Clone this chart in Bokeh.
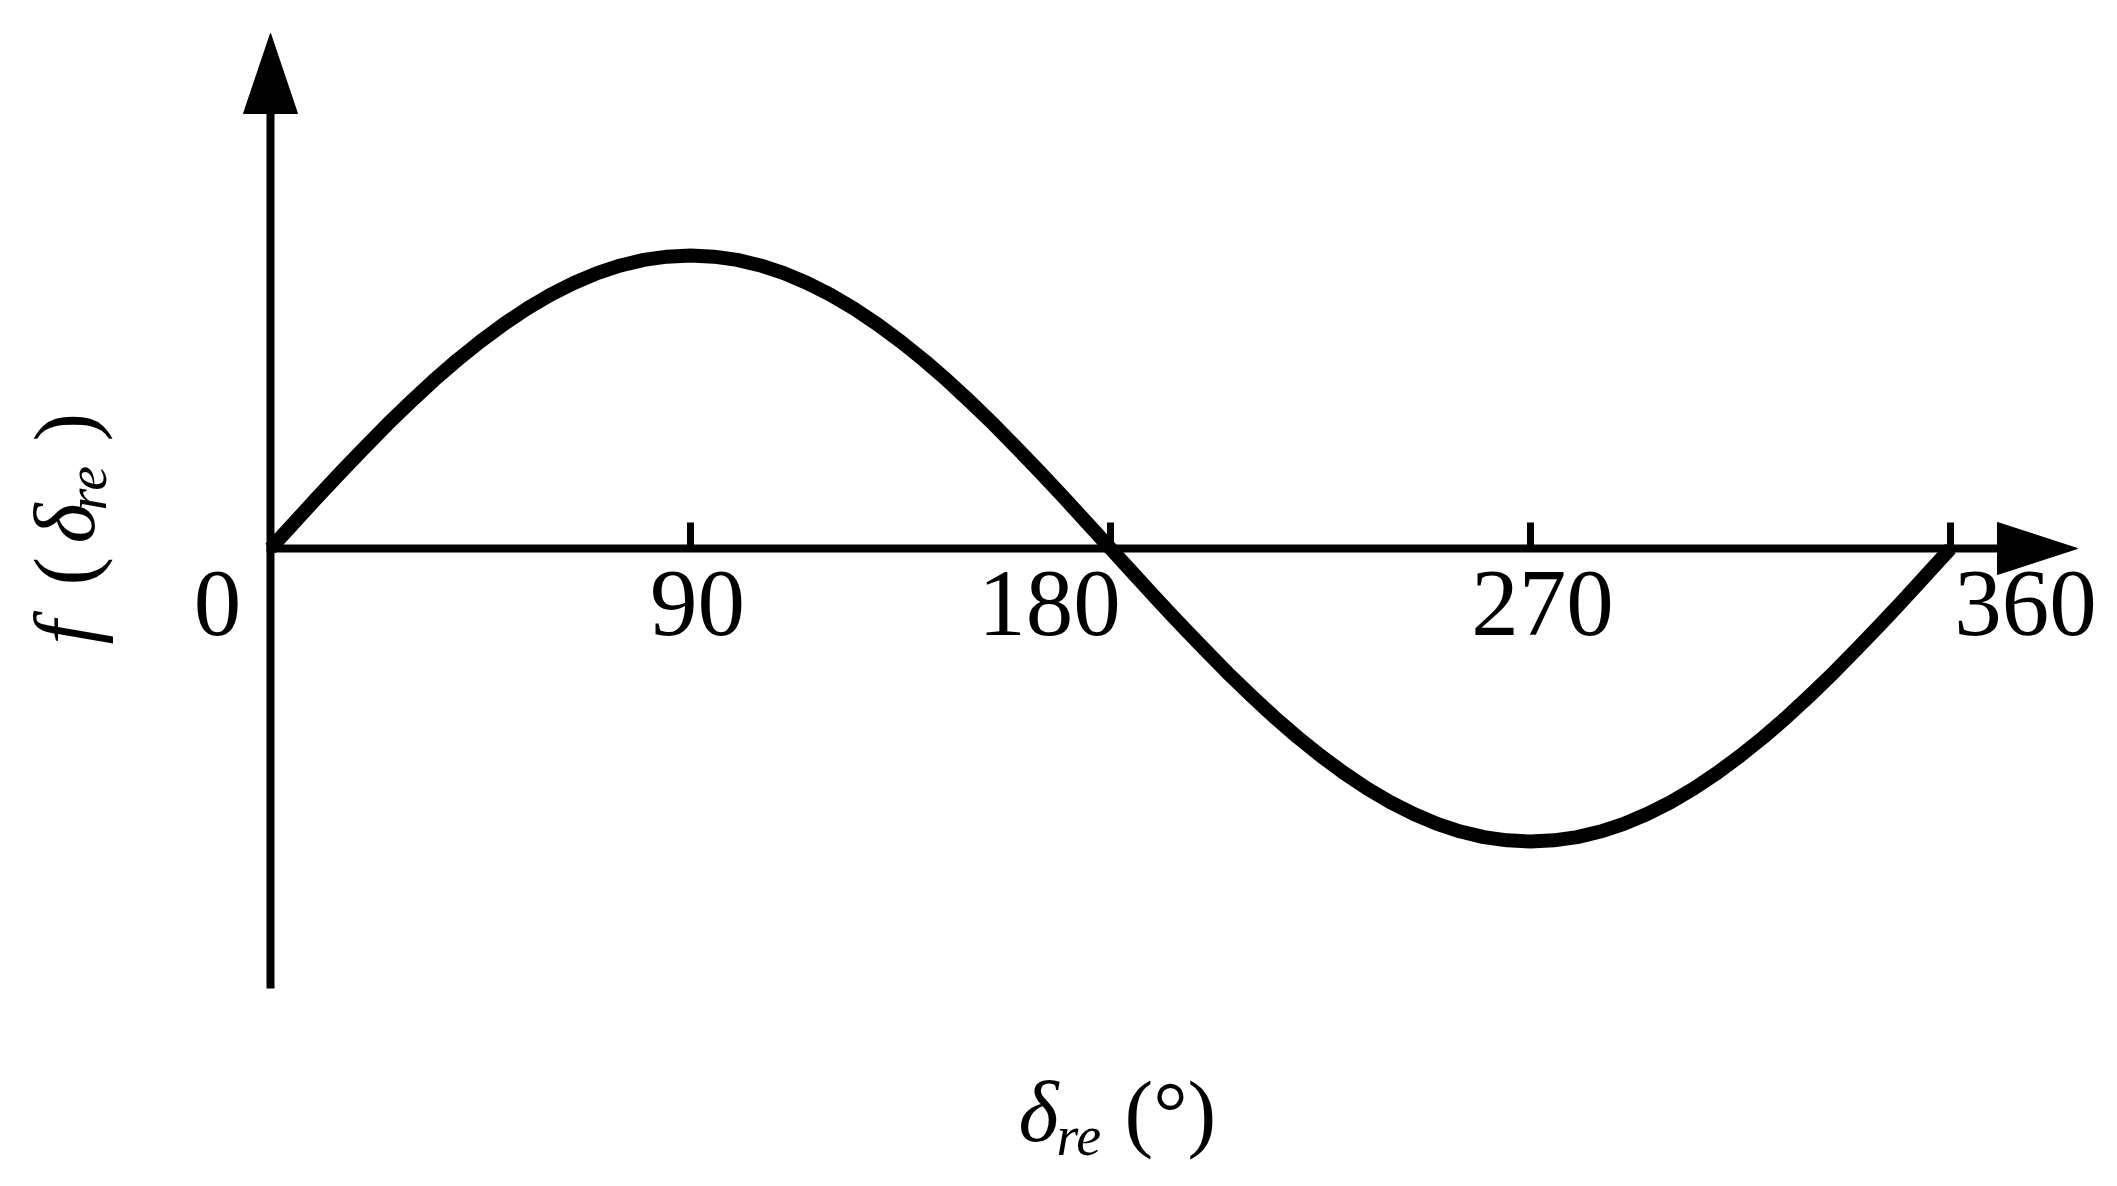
import math
from bokeh.plotting import figure
from bokeh.models import Range1d
from bokeh.core.properties import value
from bokeh.embed import file_html
from bokeh.resources import INLINE

# ---------------- data ----------------
deg = list(range(0, 361, 5))
f_vals = [0.000, 0.087, 0.174, 0.259, 0.342, 0.423, 0.500, 0.574, 0.643, 0.707,
          0.766, 0.819, 0.866, 0.906, 0.940, 0.966, 0.985, 0.996, 1.000, 0.996,
          0.985, 0.966, 0.940, 0.906, 0.866, 0.819, 0.766, 0.707, 0.643, 0.574,
          0.500, 0.423, 0.342, 0.259, 0.174, 0.087, 0.000, -0.087, -0.174, -0.259,
          -0.342, -0.423, -0.500, -0.574, -0.643, -0.707, -0.766, -0.819, -0.866, -0.906,
          -0.940, -0.966, -0.985, -0.996, -1.000, -0.996, -0.985, -0.966, -0.940, -0.906,
          -0.866, -0.819, -0.766, -0.707, -0.643, -0.574, -0.500, -0.423, -0.342, -0.259,
          -0.174, -0.087, 0.000]
tick_values = [90, 180, 270, 360]
label_values = [0, 90, 180, 270, 360]
tick_labels = ["0", "90", "180", "270", "360"]

# ---------------- layout (picture pixels) ----------------
W, H = 2101, 1170
ORIGIN = 0
X0_PX = 270          # x = 0 deg
X360_PX = 1950       # x = 360 deg
Y0_PX = 548          # f = 0
AMP_PX = 293         # f = 1
K = (X360_PX - X0_PX) / 360.0

def dx(px):   # picture px -> data x
    return (px - X0_PX) / K

def vy(py):   # picture py -> data y
    return (Y0_PX - py) / AMP_PX

p = figure(width=W, height=H, output_backend="svg", toolbar_location=None,
           x_range=Range1d(dx(ORIGIN), dx(ORIGIN + W)),
           y_range=Range1d(vy(ORIGIN + H), vy(ORIGIN)),
           min_border=0, outline_line_color=None)
p.axis.visible = False
p.grid.visible = False
p.background_fill_color = "white"
p.border_fill_color = "white"

FONT = value("Liberation Serif")

# axes lines
p.segment(x0=[0], y0=[vy(988)], x1=[0], y1=[vy(110)], line_width=8,
          line_color="black", line_cap="butt")
p.segment(x0=[dx(266)], y0=[0], x1=[dx(2000)], y1=[0], line_width=8,
          line_color="black", line_cap="butt")

# arrow heads
p.patch(x=[0, dx(X0_PX - 27), dx(X0_PX + 27)], y=[vy(33), vy(113), vy(113)],
        fill_color="black", line_color="black", line_width=1)
p.patch(x=[dx(2077), dx(1997), dx(1997)], y=[0, vy(Y0_PX - 26), vy(Y0_PX + 26)],
        fill_color="black", line_color="black", line_width=1)

# ticks
p.segment(x0=tick_values, y0=[0] * len(tick_values), x1=tick_values,
          y1=[vy(522)] * len(tick_values), line_width=7, line_color="black",
          line_cap="butt")

# curve
p.line(deg, f_vals, line_width=14, line_color="black", line_join="round",
       line_cap="butt")

# tick labels (positions nudged as in the figure)
label_px = {0: 217, 90: 697, 180: 1049, 270: 1542, 360: 2025}
p.text(x=[dx(label_px[v]) for v in label_values], y=[vy(603)] * len(label_values),
       text=tick_labels, text_font=FONT, text_font_size="95px",
       text_align="center", text_baseline="alphabetic", text_color="black")

# x-axis title: δre (°)
p.text(x=[dx(1018)], y=[vy(1111)], text=["δ"], text_font=FONT,
       text_font_style="italic", text_font_size="86px", text_align="left",
       text_baseline="alphabetic", text_color="black")
p.text(x=[dx(1056)], y=[vy(1135)], text=["re"], text_font=FONT,
       text_font_style="italic", text_font_size="56px", text_align="left",
       text_baseline="alphabetic", text_color="black")
p.text(x=[dx(1124)], y=[vy(1111)], text=["(°)"], text_font=FONT,
       text_font_size="86px", text_align="left",
       text_baseline="alphabetic", text_color="black")

# y-axis title: f (δre ) rotated
ang = math.pi / 2
BX = 64
p.text(x=[dx(BX)], y=[vy(644)], text=["f"], text_font=FONT, text_font_style="italic",
       text_font_size="86px", angle=ang, text_align="left",
       text_baseline="alphabetic", text_color="black")
p.text(x=[dx(BX)], y=[vy(585)], text=["("], text_font=FONT,
       text_font_size="86px", angle=ang, text_align="left",
       text_baseline="alphabetic", text_color="black")
p.text(x=[dx(BX)], y=[vy(543)], text=["δ"], text_font=FONT, text_font_style="italic",
       text_font_size="86px", angle=ang, text_align="left",
       text_baseline="alphabetic", text_color="black")
p.text(x=[dx(BX + 22)], y=[vy(510)], text=["re"], text_font=FONT, text_font_style="italic",
       text_font_size="56px", angle=ang, text_align="left",
       text_baseline="alphabetic", text_color="black")
p.text(x=[dx(BX)], y=[vy(441)], text=[")"], text_font=FONT,
       text_font_size="86px", angle=ang, text_align="left",
       text_baseline="alphabetic", text_color="black")

open("out.html", "w").write(file_html(p, INLINE))
